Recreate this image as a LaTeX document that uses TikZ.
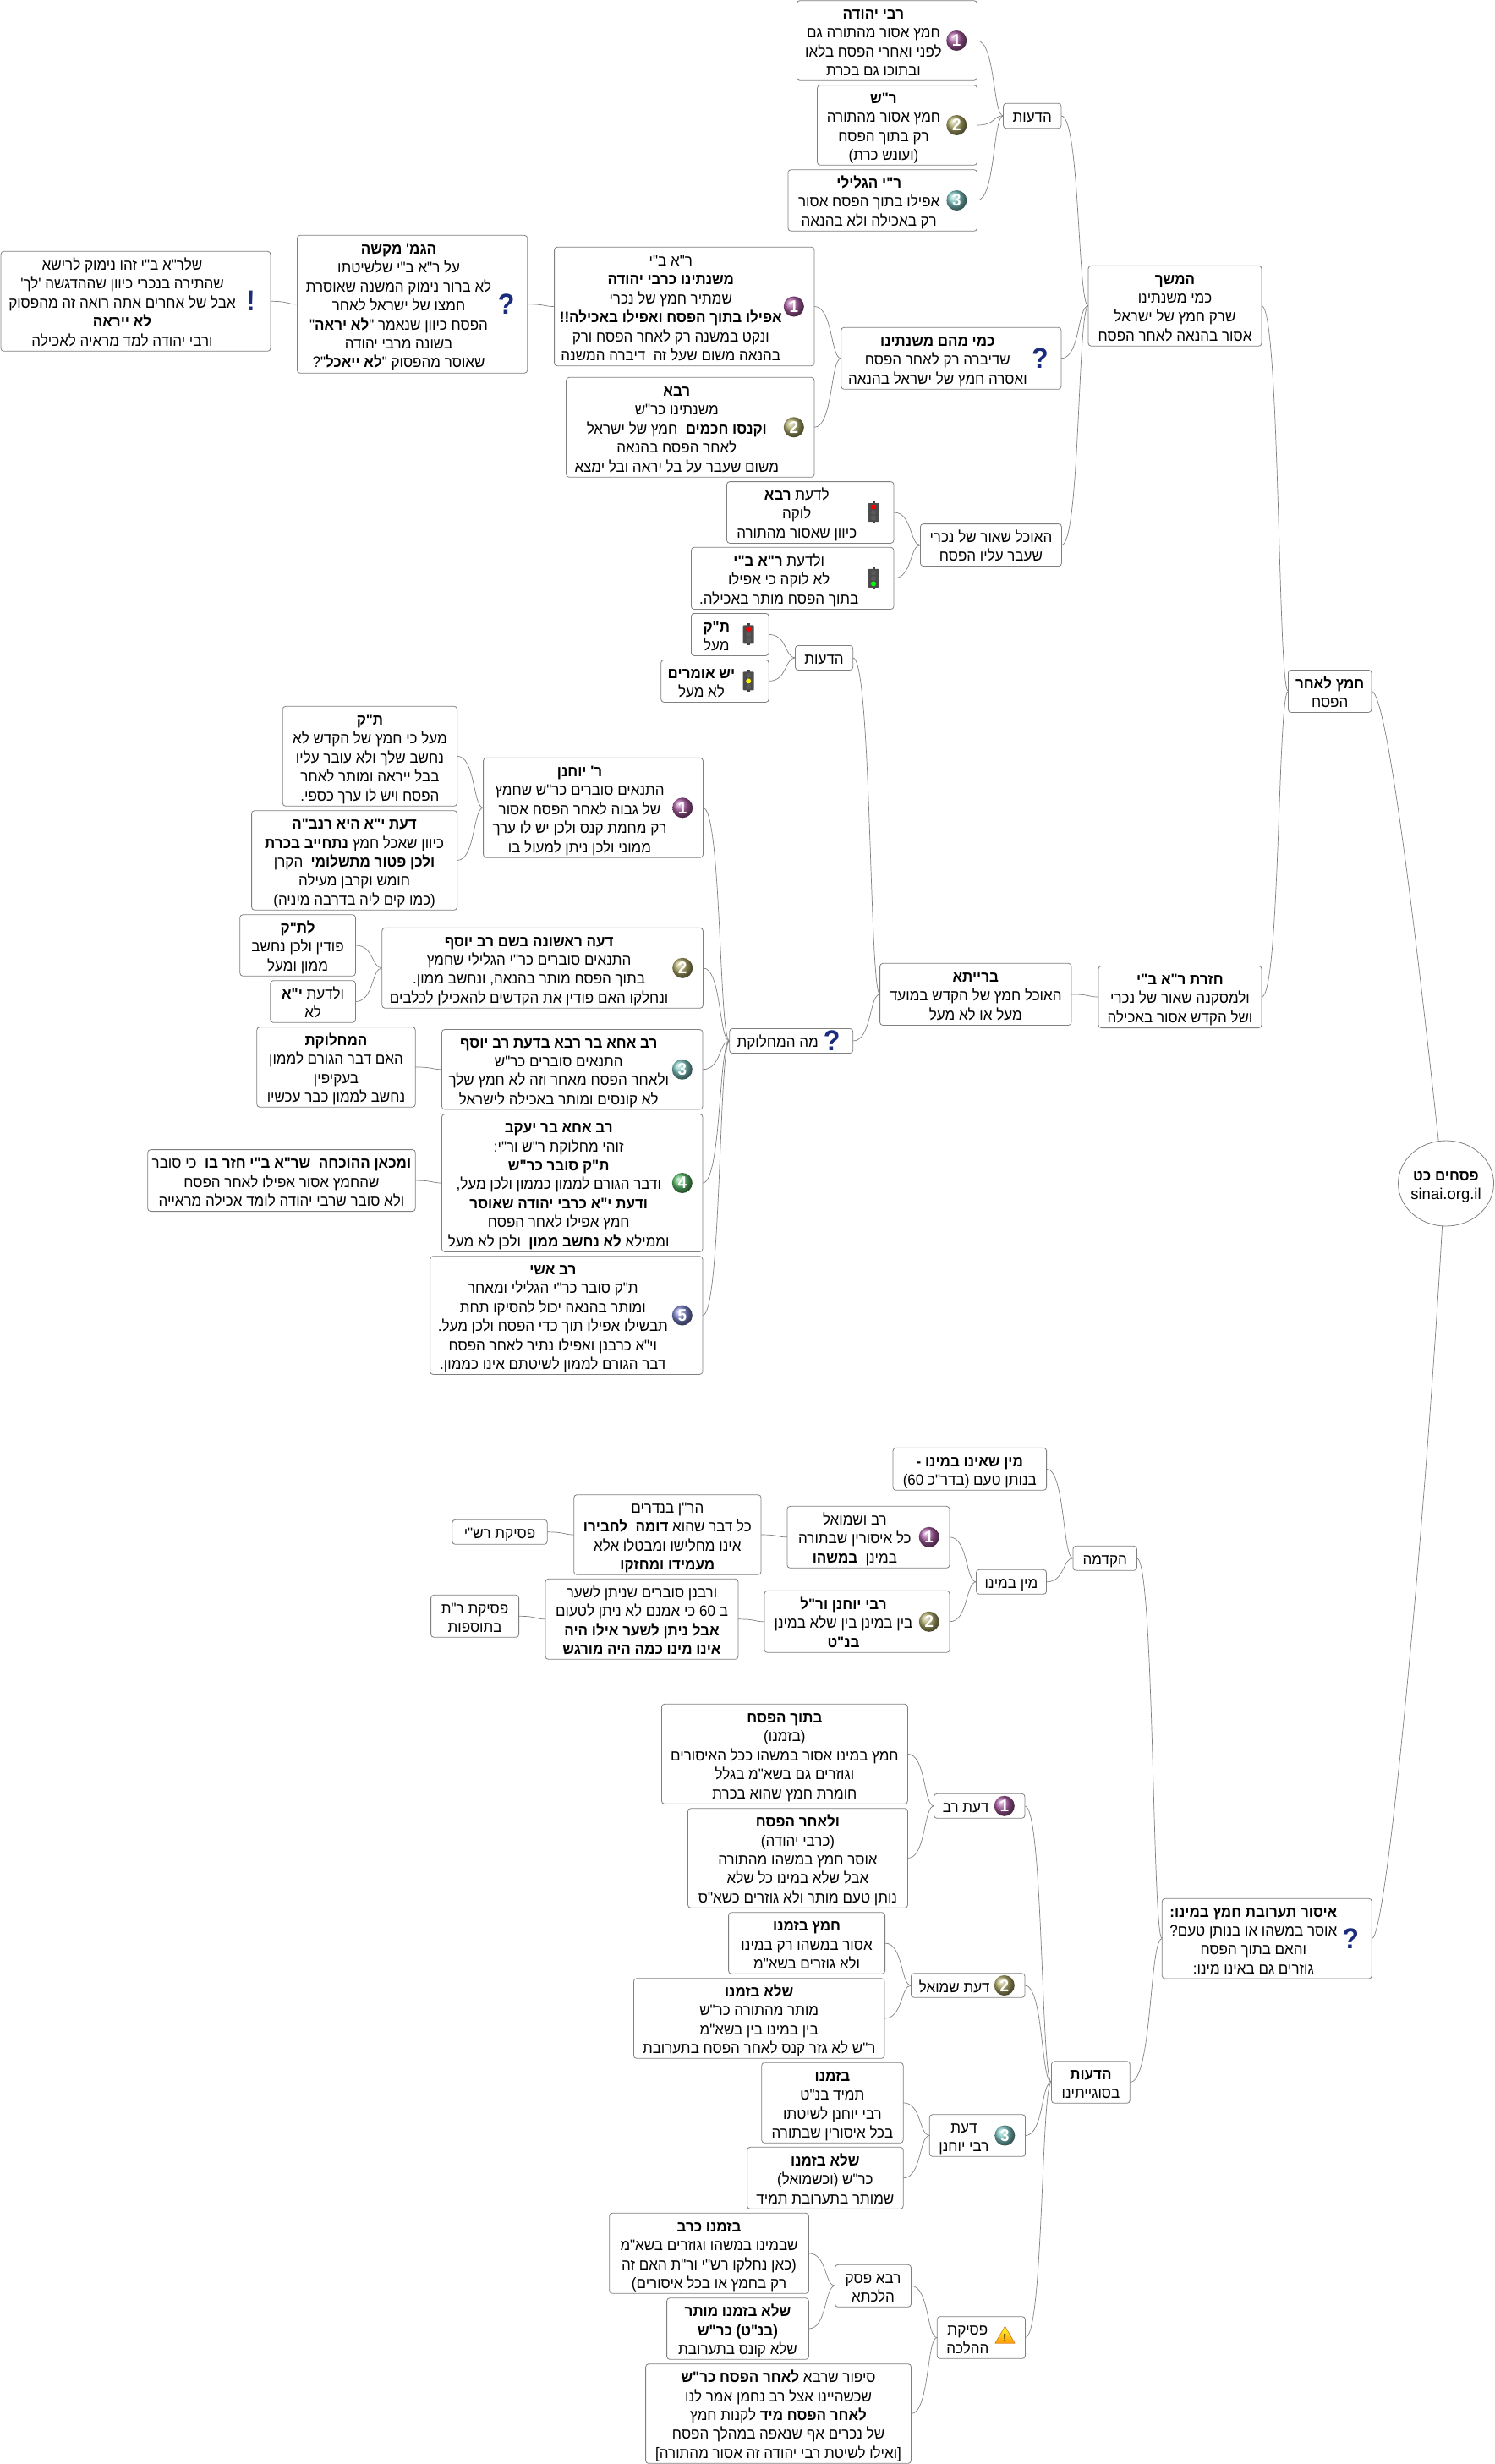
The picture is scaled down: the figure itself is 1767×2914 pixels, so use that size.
\documentclass[tikz,border=0pt]{standalone}
\usepackage{fontspec}
\usetikzlibrary{calc, positioning, shapes.geometric}
\setmainfont[Script=Hebrew,Ligatures=TeXOff,FakeStretch=0.945]{Liberation Sans}
\newfontfamily\latinfont{Liberation Sans}
\TeXXeTstate=1
\definecolor{linegray}{HTML}{808080}
\definecolor{qblue}{HTML}{1C2C7C}
\definecolor{lampoff}{HTML}{5A5A5A}
\definecolor{ballA}{HTML}{A85CA0}
\definecolor{ballB}{HTML}{ADA868}
\definecolor{ballC}{HTML}{7CC4C0}
\definecolor{ballD}{HTML}{58BC68}
\definecolor{ballE}{HTML}{7C84CC}
\newcommand{\lines}[2][0pt]{\raisebox{-3.5pt}[\height][\depth]{\begin{tabular}{@{}c@{}}#2\end{tabular}}\hspace*{#1}}
\newcommand{\ilines}[1]{\lines[32pt]{#1}}
\tikzset{
  box/.style 2 args={draw=linegray, line width=0.8pt, rounded corners=3.5pt, anchor=north west,
    inner sep=0pt, outer sep=0pt, minimum width=#1pt, minimum height=#2pt},
  badge/.style={circle, ball color=#1, text=white, inner sep=0pt, minimum size=24pt,
    font=\fontsize{20}{20}\selectfont\bfseries},
  quest/.style={text=qblue, inner sep=0pt, font=\fontsize{34}{34}\selectfont\bfseries},
  warnsign/.style={regular polygon, regular polygon sides=3, top color=yellow!80!white, bottom color=orange!80!yellow,
    draw=orange!70!black, inner sep=0pt, minimum size=27pt, font=\fontsize{13}{13}\selectfont\bfseries},
  link/.style={draw=linegray, line width=0.7pt},
  pics/tlight/.style n args={3}{code={
    \fill[black!75] (-1.5,-13) rectangle (1.5,13);
    \fill[black!70, rounded corners=1pt] (-6.5,-11) rectangle (6.5,11);
    \fill[#1] (0,-6.5) circle (3pt);
    \fill[#2] (0,0) circle (3pt);
    \fill[#3] (0,6.5) circle (3pt);
  }}
}

\begin{document}
\begin{tikzpicture}[x=1pt, y=-1pt, every node/.style={font=\fontsize{18}{22.4}\selectfont}]
  \useasboundingbox (0,0) rectangle (1767,2914);
  % ---------- ROOT ----------
  \node[draw=linegray, line width=0.8pt, ellipse, inner xsep=-2.5pt, inner ysep=0pt, outer sep=0pt, minimum width=113pt, minimum height=101pt]
    (root) at (1710,1399.5) {\lines{\beginR\textbf{פסחים כט}\endR\\{\latinfont\fontsize{18.5}{22.4}\selectfont sinai.org.il}}};
  % ---------- UPPER HALF ----------
  \node[box={98.6}{50}] (chlp) at (1523.4,792.4) {\lines{\beginR\textbf{חמץ לאחר}\endR\\\beginR הפסח\endR}};
  \node[box={205}{95}] (hamshech) at (1287,314.3) {\lines{\beginR\textbf{המשך}\endR\\\beginR כמי משנתינו\endR\\\beginR שרק חמץ של ישראל\endR\\\beginR אסור בהנאה לאחר הפסח\endR}};
  \node[box={68.5}{29.4}] (hadeotA) at (1186.5,122.3) {\lines{\beginR הדעות\endR}};
  \node[box={213}{94.6}] (ryehuda) at (942.4,0.7) {\ilines{\beginR\textbf{רבי יהודה}\endR\\\beginR חמץ אסור מהתורה גם\endR\\\beginR לפני ואחרי הפסח בלאו\endR\\\beginR ובתוכו גם בכרת\endR}};
  \node[box={189}{94.6}] (rshimon) at (966.5,100.7) {\ilines{\beginR\textbf{ר"ש}\endR\\\beginR חמץ אסור מהתורה\endR\\\beginR רק בתוך הפסח\endR\\\beginR (ועונש כרת)\endR}};
  \node[box={223.5}{72.6}] (rygelili) at (932,200.7) {\ilines{\beginR\textbf{ר"י הגלילי}\endR\\\beginR אפילו בתוך הפסח אסור\endR\\\beginR רק באכילה ולא בהנאה\endR}};
  \node[box={260.3}{73}] (kami) at (994.7,387.3) {\ilines{\beginR\textbf{כמי מהם משנתינו}\endR\\\beginR שדיברה רק לאחר הפסח\endR\\\beginR ואסרה חמץ של ישראל בהנאה\endR}};
  \node[box={307.4}{140.4}] (reb) at (655.6,292.3) {\ilines{\beginR ר"א ב"י\endR\\\beginR\textbf{משנתינו כרבי יהודה}\endR\\\beginR שמתיר חמץ של נכרי\endR\\\beginR\textbf{אפילו בתוך הפסח ואפילו באכילה!!}\endR\\\beginR ונקט במשנה רק לאחר הפסח ורק\endR\\\beginR בהנאה משום שעל זה \ דיברה המשנה\endR}};
  \node[box={293.4}{118}] (rava) at (669.6,446.3) {\ilines{\beginR\textbf{רבא}\endR\\\beginR משנתינו כר"ש\endR\\\beginR\textbf{וקנסו חכמים} \ חמץ של ישראל\endR\\\beginR לאחר הפסח בהנאה\endR\\\beginR משום שעבר על בל יראה ובל ימצא\endR}};
  \node[box={272.3}{163}] (gemara) at (351.4,278.3) {\ilines{\beginR\textbf{הגמ' מקשה}\endR\\\beginR על ר"א ב"י שלשיטתו\endR\\\beginR לא ברור נימוק המשנה שאוסרת\endR\\\beginR חמצו של ישראל לאחר\endR\\\beginR הפסח כיוון שנאמר "\textbf{לא יראה}"\endR\\\beginR בשונה מרבי יהודה\endR\\\beginR שאוסר מהפסוק "\textbf{לא ייאכל}"?\endR}};
  \node[box={319}{118}] (note) at (1,297.3) {\ilines{\beginR שלר"א ב"י זהו נימוק לרישא\endR\\\beginR שהתירה בנכרי כיוון שההדגשה 'לך'\endR\\\beginR אבל של אחרים אתה רואה זה מהפסוק\endR\\\beginR\textbf{לא ייראה}\endR\\\beginR ורבי יהודה למד מראיה לאכילה\endR}};
  \node[box={167}{50}] (haochel) at (1088.4,619.6) {\lines{\beginR האוכל שאור של נכרי\endR\\\beginR שעבר עליו הפסח\endR}};
  \node[box={197.5}{72.8}] (ldaat) at (859.5,569.6) {\ilines{\beginR לדעת \textbf{רבא}\endR\\\beginR לוקה\endR\\\beginR כיוון שאסור מהתורה\endR}};
  \node[box={239.6}{73.2}] (vldaat) at (817.4,647.3) {\ilines{\beginR ולדעת \textbf{ר"א ב"י}\endR\\\beginR לא לוקה כי אפילו\endR\\\beginR בתוך הפסח מותר באכילה.\endR}};
  \node[box={193}{73.2}] (hazarat) at (1299,1142.4) {\lines{\beginR\textbf{חזרת ר"א ב"י}\endR\\\beginR ולמסקנה שאור של נכרי\endR\\\beginR ושל הקדש אסור באכילה\endR}};
  \node[box={226.4}{73.2}] (braita) at (1040.6,1139.3) {\lines{\beginR\textbf{ברייתא}\endR\\\beginR האוכל חמץ של הקדש במועד\endR\\\beginR מעל או לא מעל\endR}};
  \node[box={68.2}{29}] (hadeotB) at (940.5,763.4) {\lines{\beginR הדעות\endR}};
  \node[box={91.8}{50}] (tk) at (817.4,725.4) {\ilines{\beginR\textbf{ת"ק}\endR\\\beginR מעל\endR}};
  \node[box={127.5}{50}] (yesh) at (781.7,780.4) {\ilines{\beginR\textbf{יש אומרים}\endR\\\beginR לא מעל\endR}};
  \node[box={146}{29}] (ma) at (862.7,1216.5) {\ilines{\beginR מה המחלוקת\endR}};
  \node[box={259.8}{118}] (ryoch) at (571.6,896.3) {\ilines{\beginR\textbf{ר' יוחנן}\endR\\\beginR התנאים סוברים כר"ש שחמץ\endR\\\beginR של גבוה לאחר הפסח אסור\endR\\\beginR רק מחמת קנס ולכן יש לו ערך\endR\\\beginR ממוני ולכן ניתן למעול בו\endR}};
  \node[box={206.3}{118}] (tkb) at (334.3,835.3) {\lines{\beginR\textbf{ת"ק}\endR\\\beginR מעל כי חמץ של הקדש לא\endR\\\beginR נחשב שלך ולא עובר עליו\endR\\\beginR בבל ייראה ומותר לאחר\endR\\\beginR הפסח ויש לו ערך כספי.\endR}};
  \node[box={243}{117.6}] (daatya) at (297.6,958.7) {\lines{\beginR\textbf{דעת י"א היא רנב"ה}\endR\\\beginR כיוון שאכל חמץ \textbf{נתחייב בכרת}\endR\\\beginR\textbf{ולכן פטור מתשלומי} \ הקרן\endR\\\beginR חומש וקרבן מעילה\endR\\\beginR (כמו קים ליה בדרבה מיניה)\endR}};
  \node[box={379.6}{95}] (rishona) at (451.8,1097.3) {\ilines{\beginR\textbf{דעה ראשונה בשם רב יוסף}\endR\\\beginR התנאים סוברים כר"י הגלילי שחמץ\endR\\\beginR בתוך הפסח מותר בהנאה, ונחשב ממון.\endR\\\beginR ונחלקו האם פודין את הקדשים להאכילן לכלבים\endR}};
  \node[box={136.6}{72.6}] (ltk) at (283.8,1081.7) {\lines{\beginR\textbf{לת"ק}\endR\\\beginR פודין ולכן נחשב\endR\\\beginR ממון ומעל\endR}};
  \node[box={100.6}{49.6}] (vlya) at (319.8,1159.7) {\lines{\beginR ולדעת \textbf{י"א}\endR\\\beginR לא\endR}};
  \node[box={308.5}{94.5}] (acharava) at (522.5,1217.5) {\ilines{\beginR\textbf{רב אחא בר רבא בדעת רב יוסף}\endR\\\beginR התנאים סוברים כר"ש\endR\\\beginR ולאחר הפסח מאחר וזה לא חמץ שלך\endR\\\beginR לא קונסים ומותר באכילה לישראל\endR}};
  \node[box={187.4}{94.7}] (machl) at (303.8,1214.6) {\lines{\beginR\textbf{המחלוקת}\endR\\\beginR האם דבר הגורם לממון\endR\\\beginR בעקיפין\endR\\\beginR נחשב לממון כבר עכשיו\endR}};
  \node[box={308.5}{163}] (achayaakov) at (522.5,1317.5) {\ilines{\beginR\textbf{רב אחא בר יעקב}\endR\\\beginR זוהי מחלוקת ר"ש ור"י:\endR\\\beginR\textbf{ת"ק סובר כר"ש}\endR\\\beginR ודבר הגורם לממון כממון ולכן מעל,\endR\\\beginR\textbf{ודעת י"א כרבי יהודה שאוסר}\endR\\\beginR חמץ אפילו לאחר הפסח\endR\\\beginR וממילא \textbf{לא נחשב ממון} \ ולכן לא מעל\endR}};
  \node[box={316.5}{73}] (umikan) at (174.7,1359.6) {\lines{\beginR\textbf{ומכאן ההוכחה \ שר"א ב"י חזר בו} \ כי סובר\endR\\\beginR שהחמץ אסור אפילו לאחר הפסח\endR\\\beginR ולא סובר שרבי יהודה לומד אכילה מראייה\endR}};
  \node[box={322.3}{139.7}] (ashi) at (508.7,1485.7) {\ilines{\beginR\textbf{רב אשי}\endR\\\beginR ת"ק סובר כר"י הגלילי ומאחר\endR\\\beginR ומותר בהנאה יכול להסיקו תחת\endR\\\beginR תבשילו אפילו תוך כדי הפסח ולכן מעל.\endR\\\beginR וי"א כרבנן ואפילו נתיר לאחר הפסח\endR\\\beginR דבר הגורם לממון לשיטתם אינו כממון.\endR}};
  % ---------- LOWER HALF ----------
  \node[box={248}{94.7}] (isur) at (1374.3,2245.3) {\ilines{\beginR\textbf{איסור תערובת חמץ במינו:}\endR\\\beginR אוסר במשהו או בנותן טעם?\endR\\\beginR והאם בתוך הפסח\endR\\\beginR גוזרים גם באינו מינו:\endR}};
  \node[box={75.4}{29}] (hakdama) at (1269,1828.3) {\lines{\beginR הקדמה\endR}};
  \node[box={181.6}{50}] (mineno) at (1056,1712.3) {\lines{\beginR\textbf{מין שאינו במינו -}\endR\\\beginR בנותן טעם (בדר"כ \beginL 60\endL)\endR}};
  \node[box={83}{29}] (minbe) at (1154.5,1856.3) {\lines{\beginR מין במינו\endR}};
  \node[box={192}{73}] (ravsh) at (930.9,1781.3) {\ilines{\beginR רב ושמואל\endR\\\beginR כל איסורין שבתורה\endR\\\beginR במינן \ \textbf{במשהו}\endR}};
  \node[box={221.3}{94.6}] (haran) at (678.7,1767.7) {\lines{\beginR הר"ן בנדרים\endR\\\beginR כל דבר שהוא \textbf{דומה \ לחבירו}\endR\\\beginR אינו מחלישו ומבטלו אלא\endR\\\beginR\textbf{מעמידו ומחזקו}\endR}};
  \node[box={112.4}{29}] (prashi) at (534.8,1797.3) {\lines{\beginR פסיקת רש"י\endR}};
  \node[box={219}{73}] (ryresh) at (904,1881.3) {\ilines{\beginR\textbf{רבי יוחנן ור"ל}\endR\\\beginR בין במינן בין שלא במינן\endR\\\beginR\textbf{בנ"ט}\endR}};
  \node[box={228}{95}] (rabanan) at (645,1867.3) {\lines{\beginR ורבנן סוברים שניתן לשער\endR\\\beginR ב \beginL 60\endL{} כי אמנם לא ניתן לטעום\endR\\\beginR\textbf{אבל ניתן לשער אילו היה}\endR\\\beginR\textbf{אינו מינו כמה היה מורגש}\endR}};
  \node[box={104}{50}] (prt) at (509.6,1886.3) {\lines{\beginR פסיקת ר"ת\endR\\\beginR בתוספות\endR}};
  \node[box={92.8}{49.6}] (hadeotC) at (1243.5,2437.7) {\lines{\beginR\textbf{הדעות}\endR\\\beginR בסוגייתינו\endR}};
  \node[box={107.5}{29}] (drav) at (1104.5,2121.3) {\ilines{\beginR דעת רב\endR}};
  \node[box={291}{118}] (btoch) at (782.4,2015.3) {\lines{\beginR\textbf{בתוך הפסח}\endR\\\beginR (בזמנו)\endR\\\beginR חמץ במינו אסור במשהו ככל האיסורים\endR\\\beginR וגוזרים גם בשא"מ בגלל\endR\\\beginR חומרת חמץ שהוא בכרת\endR}};
  \node[box={260}{117.6}] (lachar) at (813.5,2138.7) {\lines{\beginR\textbf{ולאחר הפסח}\endR\\\beginR (כרבי יהודה)\endR\\\beginR אוסר חמץ במשהו מהתורה\endR\\\beginR אבל שלא במינו כל שלא\endR\\\beginR נותן טעם מותר ולא גוזרים כשא"ס\endR}};
  \node[box={134.5}{28.6}] (dshm) at (1077.5,2333.7) {\ilines{\beginR דעת שמואל\endR}};
  \node[box={185}{72.6}] (bzmano) at (861.6,2261.7) {\lines{\beginR\textbf{חמץ בזמנו}\endR\\\beginR אסור במשהו רק במינו\endR\\\beginR ולא גוזרים בשא"מ\endR}};
  \node[box={296.6}{94.6}] (slzm) at (749.4,2339.7) {\lines{\beginR\textbf{שלא בזמנו}\endR\\\beginR מותר מהתורה כר"ש\endR\\\beginR בין במינו בין בשא"מ\endR\\\beginR ר"ש לא גזר קנס לאחר הפסח בתערובת\endR}};
  \node[box={113.2}{49.6}] (dryo) at (1099.3,2500.7) {\ilines{\beginR דעת\endR\\\beginR רבי יוחנן\endR}};
  \node[box={167.5}{95}] (bzm) at (900.7,2439.3) {\lines{\beginR\textbf{בזמנו}\endR\\\beginR תמיד בנ"ט\endR\\\beginR רבי יוחנן לשיטתו\endR\\\beginR בכל איסורין שבתורה\endR}};
  \node[box={184.6}{73}] (slz) at (883.6,2539.3) {\lines{\beginR\textbf{שלא בזמנו}\endR\\\beginR כר"ש (וכשמואל)\endR\\\beginR שמותר בתערובת תמיד\endR}};
  \node[box={104.3}{49.6}] (pisk) at (1108.2,2739.7) {\ilines{\beginR פסיקת\endR\\\beginR ההלכה\endR}};
  \node[box={90}{50}] (ravap) at (987.5,2678.3) {\lines{\beginR רבא פסק\endR\\\beginR הלכתא\endR}};
  \node[box={235.7}{95}] (kerav) at (720.7,2617.3) {\lines{\beginR\textbf{בזמנו כרב}\endR\\\beginR שבמינו במשהו וגוזרים בשא"מ\endR\\\beginR (כאן נחלקו רש"י ור"ת האם זה\endR\\\beginR רק בחמץ או בכל איסורים)\endR}};
  \node[box={167.8}{72.6}] (mutar) at (788.6,2717.7) {\lines{\beginR\textbf{שלא בזמנו מותר}\endR\\\beginR\textbf{(בנ"ט) כר"ש}\endR\\\beginR שלא קונס בתערובת\endR}};
  \node[box={313.9}{117.6}] (sipur) at (763.6,2795.7) {\lines{\beginR סיפור שרבא \textbf{לאחר הפסח כר"ש}\endR\\\beginR שכשהיינו אצל רב נחמן אמר לנו\endR\\\beginR\textbf{לאחר הפסח מיד} לקנות חמץ\endR\\\beginR של נכרים אף שנאפה במהלך הפסח\endR\\\beginR [ואילו לשיטת רבי יהודה זה אסור מהתורה]\endR}};
  % ---------- ICONS ----------
  \foreach \host/\tint/\num in {ryehuda/ballA/1, rshimon/ballB/2, rygelili/ballC/3,
      reb/ballA/1, rava/ballB/2, ryoch/ballA/1, rishona/ballB/2,
      acharava/ballC/3, achayaakov/ballD/4, ashi/ballE/5,
      ravsh/ballA/1, ryresh/ballB/2, drav/ballA/1, dshm/ballB/2, dryo/ballC/3}
    \node[badge=\tint, left=12pt of \host.east] (num\host) {\num};
  \foreach \host in {kami, gemara, ma, isur}
    \node[quest, left=15pt of \host.east] (q\host) {?};
  \node[quest, left=18pt of note.east] (qnote) {!};
  \node[warnsign] (warnpisk) at ($(pisk.east)+(-24,0)$) {!};
  \foreach \host/\ca/\cb/\cc in {ldaat/red/lampoff/lampoff, vldaat/lampoff/lampoff/green, tk/red/lampoff/lampoff, yesh/lampoff/yellow/lampoff}
    \pic at ($(\host.east)+(-24,0)$) {tlight={\ca}{\cb}{\cc}};
  % ---------- CONNECTORS ----------
  \foreach \kid/\head in {ryehuda/hadeotA, rshimon/hadeotA, rygelili/hadeotA, hadeotA/hamshech, kami/hamshech, haochel/hamshech,
      hamshech/chlp, reb/kami, rava/kami, gemara/reb, note/gemara, ldaat/haochel, vldaat/haochel, hazarat/chlp, braita/hazarat,
      hadeotB/braita, ma/braita, tk/hadeotB, yesh/hadeotB, ryoch/ma, rishona/ma, acharava/ma, achayaakov/ma, ashi/ma,
      tkb/ryoch, daatya/ryoch, ltk/rishona, vlya/rishona, machl/acharava, umikan/achayaakov,
      hakdama/isur, hadeotC/isur, mineno/hakdama, minbe/hakdama, ravsh/minbe, ryresh/minbe, haran/ravsh, prashi/haran,
      rabanan/ryresh, prt/rabanan, drav/hadeotC, dshm/hadeotC, dryo/hadeotC, pisk/hadeotC, btoch/drav, lachar/drav,
      bzmano/dshm, slzm/dshm, bzm/dryo, slz/dryo, ravap/pisk, sipur/pisk, kerav/ravap, mutar/ravap}
    \draw[link] let \p1=(\kid.east), \p2=(\head.west), \n1={\x2-\x1} in (\p1) .. controls +(0.7*\n1,0) and +(-0.4*\n1,0) .. (\p2);
  \draw[link] (chlp.east) .. controls +(18,0) and +(-27,-249) .. (root.100);
  \draw[link] (isur.east) .. controls +(18,0) and +(-20,350) .. (root.-95);
\end{tikzpicture}
\end{document}
